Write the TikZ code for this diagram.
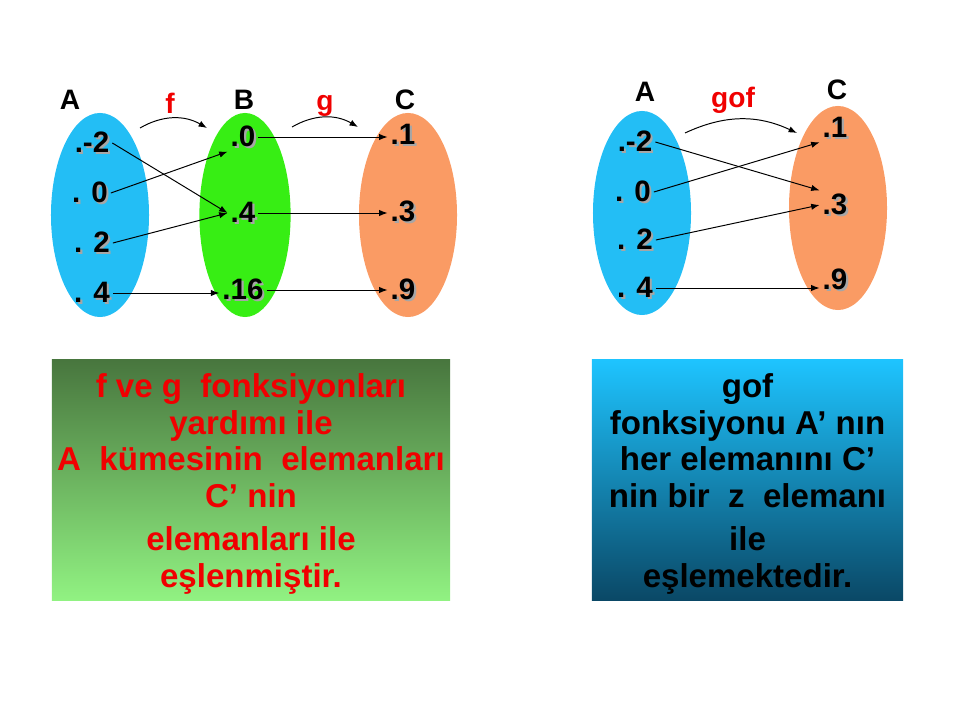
\documentclass[tikz,border=0pt]{standalone}
\usepackage{fontspec}
\setmainfont{Liberation Sans}
\usetikzlibrary{arrows.meta,shapes.geometric}

\definecolor{setblue}{RGB}{35,190,245}
\definecolor{setgreen}{RGB}{55,238,20}
\definecolor{setorange}{RGB}{250,155,100}
\definecolor{boxgreentop}{RGB}{72,118,62}
\definecolor{boxgreenbot}{RGB}{145,242,130}
\definecolor{boxbluetop}{RGB}{30,196,255}
\definecolor{boxbluebot}{RGB}{10,72,102}
\definecolor{labred}{RGB}{240,0,0}

\newcommand{\shd}[1]{\makebox[0pt][l]{\kern1.5pt\raisebox{-1.5pt}{\textcolor{gray!70}{#1}}}#1}

\begin{document}
\begin{tikzpicture}[x=0.025cm,y=-0.025cm]
\tikzset{set/.style = {shape=ellipse,minimum width=2.45cm,minimum height=5.1cm,inner sep=0pt}}
\tikzset{elem/.style = {font=\fontsize{21}{21}\selectfont\bfseries,inner sep=2pt}}
\tikzset{lab/.style = {font=\fontsize{20}{20}\selectfont\bfseries}}
\tikzset{edge/.style = {->,> = {Latex[length=6pt,width=4.5pt]},line width=0.7pt}}
\tikzset{textbox/.style = {minimum height=6cm,inner sep=0pt}}
\tikzset{boxtext/.style = {align=center,font=\fontsize{23.5}{26}\selectfont\bfseries}}
\useasboundingbox (0,0) rectangle (960,720);
% sets
\node[set,fill=setblue] (setA) at (100,215) {};
\node[set,fill=setgreen,minimum width=2.28cm] (setB) at (245,215) {};
\node[set,fill=setorange] (setC) at (408,215) {};
\node[set,fill=setblue] (setA2) at (642,213) {};
\node[set,fill=setorange] (setC2) at (838,208) {};
% labels
\node[lab] (labA) at (70,100) {A};
\node[lab] (labB) at (244,100) {B};
\node[lab] (labC) at (405,100) {C};
\node[lab,text=labred] (labf) at (170,103) {f};
\node[lab,text=labred] (labg) at (325,106) {g};
\node[lab] (labA2) at (645,92) {A};
\node[lab] (labC2) at (837,90) {C};
\node[lab,text=labred] (labgof) at (733,100) {gof};
% elements
\node[elem] (am2) at (92,143) {\shd{.-2}};
\node[elem] (a0) at (90,193) {\shd{. 0}};
\node[elem] (a2) at (92,243) {\shd{. 2}};
\node[elem] (a4) at (92,293) {\shd{. 4}};
\node[elem] (b0) at (243,137) {\shd{.0}};
\node[elem] (b4) at (243,213) {\shd{.4}};
\node[elem] (b16) at (243,290) {\shd{.16}};
\node[elem] (c1) at (403,135) {\shd{.1}};
\node[elem] (c3) at (403,212) {\shd{.3}};
\node[elem] (c9) at (403,290) {\shd{.9}};
\node[elem] (xm2) at (635,142) {\shd{.-2}};
\node[elem] (x0) at (633,192) {\shd{. 0}};
\node[elem] (x2) at (635,240) {\shd{. 2}};
\node[elem] (x4) at (635,288) {\shd{. 4}};
\node[elem] (z1) at (835,128) {\shd{.1}};
\node[elem] (z3) at (835,205) {\shd{.3}};
\node[elem] (z9) at (835,280) {\shd{.9}};
% edges
\draw[edge] (am2.east) to (b4.west);
\draw[edge] (a0.east) to (b0.south west);
\draw[edge] (a2.east) to (b4.west);
\draw[edge] (a4.east) to (b16.west |- a4.east);
\draw[edge] (b0.east) to (c1.west |- b0.east);
\draw[edge] (b4.east) to (c3.west |- b4.east);
\draw[edge] (b16.east) to (c9.west |- b16.east);
\draw[edge] (xm2.east) to (z3.north west);
\draw[edge] (x0.east) to (z1.south west);
\draw[edge] (x2.east) to (z3.west);
\draw[edge] (x4.east) to (z9.west |- x4.east);
% function arrows
\coordinate (f1) at (140,128);
\coordinate (f2) at (207,128);
\coordinate (g1) at (292,127);
\coordinate (g2) at (358,127);
\coordinate (h1) at (685,133);
\coordinate (h2) at (797,133);
\draw[edge] (f1) to[bend left=30] (f2);
\draw[edge] (g1) to[bend left=30] (g2);
\draw[edge] (h1) to[bend left=25] (h2);
% text boxes
\node[textbox,minimum width=9.95cm,top color=boxgreentop,bottom color=boxgreenbot] (boxfg) at (251,480) {};
\node[boxtext,text=labred] (txtfg) at (251,484)
  {f ve g\ \ fonksiyonları\\yardımı ile\\A\ \ kümesinin\ \ elemanları\\C’ nin\\[5pt]elemanları ile\\eşlenmiştir.};
\node[textbox,minimum width=7.78cm,top color=boxbluetop,bottom color=boxbluebot] (boxgof) at (747.5,480) {};
\node[boxtext] (txtgof) at (747.5,484)
  {gof\\fonksiyonu A’ nın\\her elemanını C’\\nin bir\ \ z\ \ elemanı\\[5pt]ile\\eşlemektedir.};
\end{tikzpicture}
\end{document}
